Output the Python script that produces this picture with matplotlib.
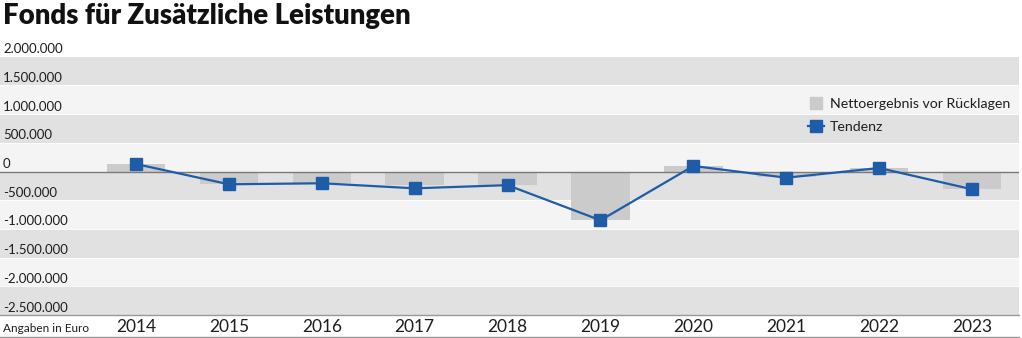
import matplotlib
matplotlib.use("Agg")
import matplotlib.pyplot as plt
from matplotlib.lines import Line2D
import numpy as np

years = ["2014", "2015", "2016", "2017", "2018", "2019", "2020", "2021", "2022", "2023"]
netto = [130000, -223000, -195000, -235000, -235000, -845000, 96000, -101000, 56000, -310000]
tendenz = [130000, -223000, -205000, -293000, -238000, -850000, 96000, -108000, 61000, -310000]
ytick_vals = [2000000, 1500000, 1000000, 500000, 0, -500000, -1000000, -1500000, -2000000, -2500000]
ytick_labels = ["2.000.000", "1.500.000", "1.000.000", "500.000", "0", "-500.000",
                "-1.000.000", "-1.500.000", "-2.000.000", "-2.500.000"]

plt.rcParams['font.family'] = ['Lato', 'DejaVu Sans']

W, H = 1022, 338
fig = plt.figure(figsize=(W / 100, H / 100), dpi=100)
ax = fig.add_axes([0, (H - 315) / H, 1019 / W, (315 - 56.7) / H])

GRAY_BAND = '#e1e1e1'
LIGHT_BAND = '#f4f4f4'
BAR = '#cbcbcb'
BLUE = '#1f5ca8'
TXT = '#1e1e1e'

# bands
edges = sorted(ytick_vals, reverse=True)
for i in range(len(edges) - 1):
    ax.axhspan(edges[i + 1], edges[i], color=GRAY_BAND if i % 2 == 0 else LIGHT_BAND,
               lw=0, zorder=0)
for v in ytick_vals[1:-1]:
    ax.axhline(v, color='white', lw=0.6, zorder=0.5)

x = np.arange(len(years))
ax.bar(x, netto, width=0.63, color=BAR, zorder=1, label="Nettoergebnis vor Rücklagen")
ax.axhline(0, color='#7a7a7a', lw=1.0, zorder=2)
ax.plot(x, tendenz, color=BLUE, lw=1.6, marker='s', markersize=9, zorder=3, label="Tendenz")

ax.set_xlim(-1.464, 9.505)
ax.set_ylim(-2500000, 2000000)
ax.set_yticks([])
ax.set_xticks(x)
ax.set_xticklabels(years, fontsize=12.5, color=TXT)
ax.tick_params(axis='x', length=0, pad=3)
for s in ['top', 'right', 'left']:
    ax.spines[s].set_visible(False)
ax.spines['bottom'].set_color('#999999')
ax.spines['bottom'].set_linewidth(1.0)

for v, lab in zip(ytick_vals, ytick_labels):
    ax.annotate(lab, xy=(0, v), xycoords=('axes fraction', 'data'),
                xytext=(2.2, 2.5), textcoords='offset points',
                ha='left', va='baseline', fontsize=9.5, color=TXT, clip_on=False)

# legend
h1 = Line2D([], [], linestyle='none', marker='s', markersize=8.5, color=BAR)
h2 = Line2D([], [], color=BLUE, lw=1.6, marker='s', markersize=9)
fig.legend([h1, h2], ["Nettoergebnis vor Rücklagen", "Tendenz"],
           loc='upper left', bbox_to_anchor=(808 / W, (H - 98) / H),
           frameon=False, fontsize=10.2, handlelength=1.15, handletextpad=0.4,
           labelspacing=0.75, borderpad=0, borderaxespad=0, labelcolor=TXT)

fig.text(3 / W, (H - 3) / H, "Fonds für Zusätzliche Leistungen", fontsize=19.8,
         fontweight='heavy', color='#111111', ha='left', va='top')
fig.text(3 / W, (H - 328) / H, "Angaben in Euro", fontsize=8.5, color=TXT,
         ha='left', va='center')
fig.add_artist(Line2D([0, 1019 / W], [(H - 336.7) / H] * 2, color='#999999', lw=1.0,
                      transform=fig.transFigure))

fig.savefig("out.png", dpi=100, facecolor='white')
